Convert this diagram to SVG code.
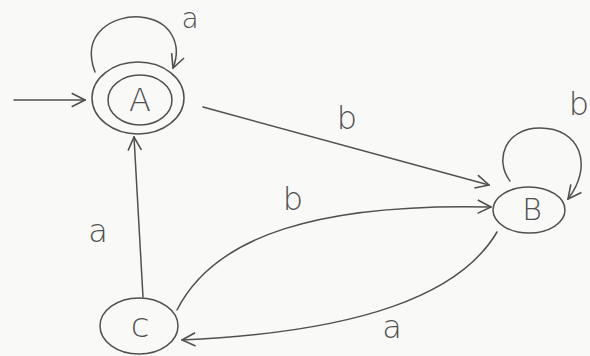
<svg xmlns="http://www.w3.org/2000/svg" width="590" height="356" viewBox="0 0 590 356">
<defs>
<style>
.s{fill:none;stroke:#505050;stroke-width:1.5;stroke-linecap:round}
.t{font-family:"DejaVu Sans",sans-serif;fill:#505050;text-anchor:middle;dominant-baseline:central;font-weight:300}
</style>
<marker id="ah" viewBox="0 0 12 12" refX="11" refY="6" markerWidth="16" markerHeight="16" markerUnits="userSpaceOnUse" orient="auto">
<path d="M1,1 L11,6 L1,11" fill="none" stroke="#505050" stroke-width="1.2"/>
</marker>
</defs>
<rect width="590" height="356" fill="#f9f9f7"/>
<g id="connectors">
<line class="s" x1="14" y1="100" x2="85" y2="100" marker-end="url(#ah)"/>
<path class="s" d="M95,72 C80,32 115,15 140,17 C172,20 182,45 173,68" marker-end="url(#ah)"/>
<text class="t" x="190" y="18" font-size="28">a</text>
<line class="s" x1="203" y1="107" x2="489" y2="185" marker-end="url(#ah)"/>
<text class="t" x="347" y="118" font-size="32">b</text>
<path class="s" d="M510,181 C494,160 505,128 540,128 C580,128 594,165 568,199" marker-end="url(#ah)"/>
<text class="t" x="579" y="104" font-size="32">b</text>
<path class="s" d="M177,310 C215,235 320,203 491,207" marker-end="url(#ah)"/>
<text class="t" x="293" y="199" font-size="32">b</text>
<path class="s" d="M497,232 C460,295 360,332 182,340" marker-end="url(#ah)"/>
<text class="t" x="392" y="327" font-size="32">a</text>
<line class="s" x1="143" y1="297" x2="134" y2="137" marker-end="url(#ah)"/>
<text class="t" x="98" y="231" font-size="32">a</text>
</g>
<g id="A">
<ellipse class="s" cx="138" cy="98" rx="46" ry="36"/>
<ellipse class="s" cx="140" cy="100" rx="32" ry="25"/>
<text class="t" x="140" y="100" font-size="32">A</text>
</g>
<g id="B">
<ellipse class="s" cx="529" cy="210" rx="36" ry="23"/>
<text class="t" x="532" y="209" font-size="30">B</text>
</g>
<g id="C">
<ellipse class="s" cx="139" cy="326" rx="39" ry="28"/>
<text class="t" x="140" y="325" font-size="34">c</text>
</g>
</svg>
